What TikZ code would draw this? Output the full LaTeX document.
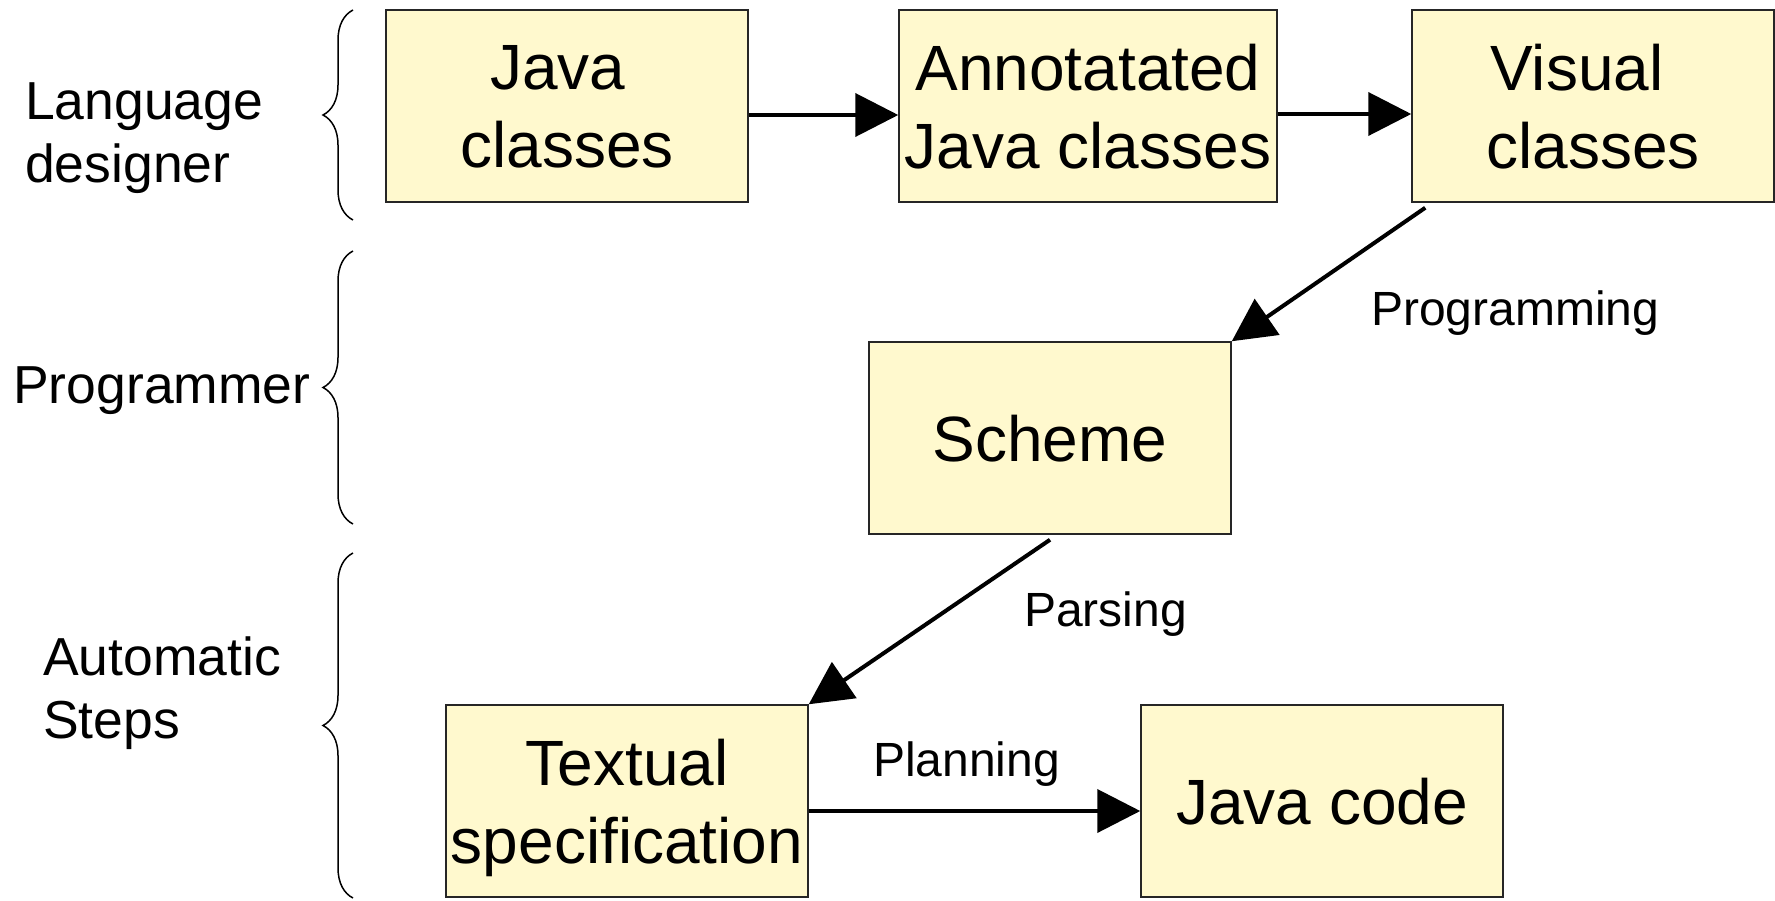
\documentclass[tikz,border=0pt]{standalone}
\usepackage{fontspec}
\setmainfont{Liberation Sans}
\usepackage{xcolor}
\usetikzlibrary{arrows.meta, positioning, decorations.pathreplacing}

\definecolor{boxyellow}{RGB}{255,249,206}

\begin{document}
\begin{tikzpicture}[
            x=1pt, y=-1pt,
            stage/.style={draw=black!85, fill=boxyellow, line width=1.5pt,
                minimum width=362pt, minimum height=192pt, inner sep=0pt,
                text depth=0pt, align=center, font=\fontsize{64}{78}\selectfont},
            role/.style={anchor=base west, inner sep=0pt, align=left,
                font=\fontsize{53.5}{63}\selectfont},
            steplabel/.style={anchor=base west, inner sep=0pt,
                font=\fontsize{48}{58}\selectfont},
            flow/.style={-{Triangle[length=43pt, width=43pt]}, line width=4pt},
            rolebrace/.style={decorate, decoration={brace, amplitude=30pt}, line width=1.5pt},
        ]
        \useasboundingbox (0,0) rectangle (1775,900);

        % who does what (base = last line)
        \node (designer) at (25,182) [role] {Language\\designer};
        \node (programmer) at (13,403) [role] {Programmer};
        \node (automatic) at (43,738) [role] {Automatic\\Steps};

        \draw[rolebrace] (353,220) -- (353,10);
        \draw[rolebrace] (353,524) -- (353,251);
        \draw[rolebrace] (353,898) -- (353,553);

        % the stages
        \node (jc) at (567,106) [stage] {Java\hspace*{18pt}\\classes};
        \node (ajc) at (1088,106) [stage, minimum width=378pt] {Annotatated\\Java classes};
        \node (vc) at (1593,106) [stage] {Visual\hspace*{32pt}\\classes};
        \node (sch) at (1050,438) [stage] {Scheme};
        \node (ts) at (627,801) [stage] {Textual\\specification};
        \node (jcode) at (1322,801) [stage] {Java code};

        \draw[flow] ([yshift=-9pt]jc.east) -- ([yshift=-9pt]ajc.west);
        \draw[flow] ([yshift=-8pt]ajc.east) -- ([yshift=-8pt]vc.west);
        \draw[flow] ([xshift=14pt, yshift=-5pt]vc.south west) -- (sch.north east);
        \draw[flow] ([yshift=-5pt]sch.south) -- (ts.north east);
        \draw[flow] ([yshift=-10pt]ts.east) -- ([yshift=-10pt]jcode.west);

        \node (programming) at (1371,325) [steplabel] {Programming};
        \node (parsing) at (1024,626) [steplabel] {Parsing};
        \node (planning) at (873,776) [steplabel] {Planning};
        \end{tikzpicture}
\end{document}
